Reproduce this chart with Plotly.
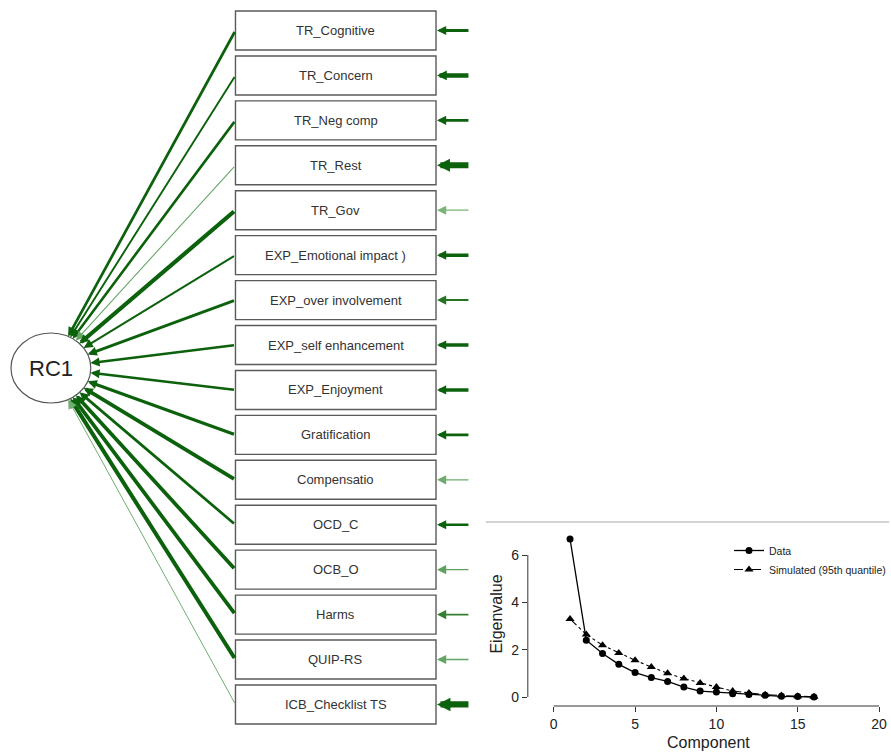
import numpy as np
import plotly.graph_objects as go

# ---------------- data ----------------
variables = ["TR_Cognitive", "TR_Concern", "TR_Neg comp", "TR_Rest", "TR_Gov",
             "EXP_Emotional impact )", "EXP_over involvement", "EXP_self enhancement",
             "EXP_Enjoyment", "Gratification", "Compensatio", "OCD_C", "OCB_O",
             "Harms", "QUIP-RS", "ICB_Checklist TS"]
loadings = [0.62, 0.48, 0.60, 0.30, 0.85, 0.50, 0.63, 0.57, 0.57, 0.70,
            0.78, 0.62, 0.78, 0.78, 0.82, 0.28]
uniqueness = [0.62, 0.77, 0.58, 0.91, 0.28, 0.66, 0.45, 0.66, 0.66, 0.58,
              0.30, 0.55, 0.33, 0.42, 0.32, 0.93]
factor_name = "RC1"

components = list(range(1, 17))
eigen_data = [6.68, 2.40, 1.84, 1.38, 1.03, 0.82, 0.66, 0.42, 0.25, 0.21,
              0.14, 0.11, 0.07, 0.03, 0.02, 0.00]
eigen_sim = [3.30, 2.64, 2.19, 1.86, 1.55, 1.27, 1.00, 0.78, 0.59, 0.42,
             0.25, 0.17, 0.10, 0.06, 0.03, 0.01]
x_ticks = [0, 5, 10, 15, 20]
y_ticks = [0, 2, 4, 6]

# ---------------- geometry (pixels) ----------------
W, H = 891, 754
BOX_X0, BOX_X1 = 236, 437
BOX_TOP0, BOX_STEP, BOX_H = 30.5, 44.93, 39
RES_TAIL_X = 471
CX, CY, RX, RY = 51, 368, 40, 35

DARK = np.array([12, 98, 12])
LIGHT = np.array([160, 210, 160])


def fade(v, lo, hi):
    t = float(np.clip((v - lo) / (hi - lo), 0, 1))
    c = LIGHT + (DARK - LIGHT) * t
    return "rgb(%d,%d,%d)" % tuple(c.astype(int))


def width(v, vmin, vmax, wmin, wmax, p):
    t = float(np.clip((v - vmin) / (vmax - vmin), 0, 1))
    return wmin + (wmax - wmin) * t ** p


def headsize(w):
    return max(0.3, max(5.5, 1.3 * w) / (3.0 * w))


fig = go.Figure()
shapes = []
annotations = []

for i, name in enumerate(variables):
    yc = BOX_TOP0 + BOX_STEP * i
    shapes.append(dict(type="rect", xref="x", yref="y", x0=BOX_X0, x1=BOX_X1,
                       y0=yc - BOX_H / 2, y1=yc + BOX_H / 2,
                       line=dict(color="#5a5a5a", width=1.4), fillcolor="white",
                       layer="below"))
    annotations.append(dict(x=(BOX_X0 + BOX_X1) / 2, y=yc, xref="x", yref="y",
                            text=name, showarrow=False,
                            font=dict(family="Liberation Sans, Arial", size=13,
                                      color="#333333")))
    # loading arrow to factor
    dx, dy = BOX_X0 - CX, yc - CY
    s = 1.0 / np.sqrt((dx / RX) ** 2 + (dy / RY) ** 2)
    hx, hy = CX + s * dx, CY + s * dy
    lw = width(loadings[i], 0.28, 0.85, 1.0, 4.2, 1.2)
    annotations.append(dict(x=hx, y=hy, xref="x", yref="y", ax=BOX_X0, ay=yc,
                            axref="x", ayref="y", text="", showarrow=True,
                            arrowhead=2, arrowwidth=lw, arrowsize=headsize(lw),
                            arrowcolor=fade(loadings[i], 0.2, 0.45),
                            standoff=0, startstandoff=0))
    # residual arrow
    rw = width(uniqueness[i], 0.28, 0.93, 1.3, 6.2, 1.5)
    annotations.append(dict(x=BOX_X1 + 1, y=yc, xref="x", yref="y", ax=RES_TAIL_X,
                            ay=yc, axref="x", ayref="y", text="", showarrow=True,
                            arrowhead=2, arrowwidth=rw, arrowsize=headsize(rw),
                            arrowcolor=fade(uniqueness[i], 0.2, 0.5),
                            standoff=0, startstandoff=0))

# factor ellipse
shapes.append(dict(type="circle", xref="x", yref="y", x0=CX - RX, x1=CX + RX,
                   y0=CY - RY, y1=CY + RY, line=dict(color="#555555", width=1.2),
                   fillcolor="white", layer="below"))
annotations.append(dict(x=CX, y=CY, xref="x", yref="y", text=factor_name,
                        showarrow=False,
                        font=dict(family="Liberation Sans, Arial", size=22,
                                  color="#222222")))

# separator line above scree plot
shapes.append(dict(type="line", xref="x", yref="y", x0=487, x1=W, y0=522, y1=522,
                   line=dict(color="#c4c4c4", width=1.5)))

# ---------------- scree plot ----------------
fig.add_trace(go.Scatter(x=components, y=eigen_data, mode="lines+markers",
                         name="Data", xaxis="x2", yaxis="y2",
                         line=dict(color="black", width=1.3),
                         marker=dict(symbol="circle", size=7, color="black")))
fig.add_trace(go.Scatter(x=components, y=eigen_sim, mode="lines+markers",
                         name="Simulated (95th quantile)", xaxis="x2", yaxis="y2",
                         line=dict(color="black", width=1.1, dash="dashdot"),
                         marker=dict(symbol="triangle-up", size=8, color="black")))

# invisible trace to keep main axes alive
fig.add_trace(go.Scatter(x=[0, W], y=[0, H], mode="markers",
                         marker=dict(opacity=0), showlegend=False,
                         hoverinfo="skip"))

px_x = (881 - 555) / 20.0
px_y = (697 - 555) / 6.0
x2_range = [(529 - 555) / px_x, (W - 555) / px_x]
y2_range = [(697 - 706) / px_y, (697 - 522) / px_y]

shapes.append(dict(type="line", xref="x2", yref="y2 domain", x0=x_ticks[0],
                   x1=x_ticks[-1], y0=0, y1=0, line=dict(color="#333333", width=1)))
shapes.append(dict(type="line", xref="x2 domain", yref="y2", x0=0, x1=0,
                   y0=y_ticks[0], y1=y_ticks[-1],
                   line=dict(color="#333333", width=1)))

axis_font = dict(family="Liberation Sans, Arial", size=14, color="#222222")
fig.update_layout(
    width=W, height=H, margin=dict(l=0, r=0, t=0, b=0),
    paper_bgcolor="white", plot_bgcolor="rgba(0,0,0,0)",
    xaxis=dict(range=[0, W], domain=[0, 1], visible=False, fixedrange=True),
    yaxis=dict(range=[H, 0], domain=[0, 1], visible=False, fixedrange=True),
    xaxis2=dict(domain=[529 / W, 1.0], range=x2_range, anchor="y2",
                tickvals=x_ticks, ticks="outside", ticklen=5, tickcolor="#333333",
                showline=False, showgrid=False, zeroline=False, tickfont=axis_font,
                title=dict(text="Component", standoff=6,
                           font=dict(family="Liberation Sans, Arial", size=16,
                                     color="#222222"))),
    yaxis2=dict(domain=[(H - 706) / H, (H - 522) / H], range=y2_range, anchor="x2",
                tickvals=y_ticks, ticks="outside", ticklen=5, tickcolor="#333333",
                showline=False, showgrid=False, zeroline=False, tickfont=axis_font,
                title=dict(text="Eigenvalue", standoff=4,
                           font=dict(family="Liberation Sans, Arial", size=16,
                                     color="#222222"))),
    legend=dict(x=731 / W, y=(H - 536) / H, xanchor="left", yanchor="top",
                bgcolor="rgba(0,0,0,0)", font=dict(family="Liberation Sans, Arial",
                                                    size=10.5, color="#222222"),
                itemwidth=30, tracegroupgap=0),
    shapes=shapes, annotations=annotations, showlegend=True,
)

fig.write_html("out.html", config={"displayModeBar": False, "responsive": False},
               post_script="document.body.style.margin='0px';"
                           "document.body.style.overflow='hidden';")
